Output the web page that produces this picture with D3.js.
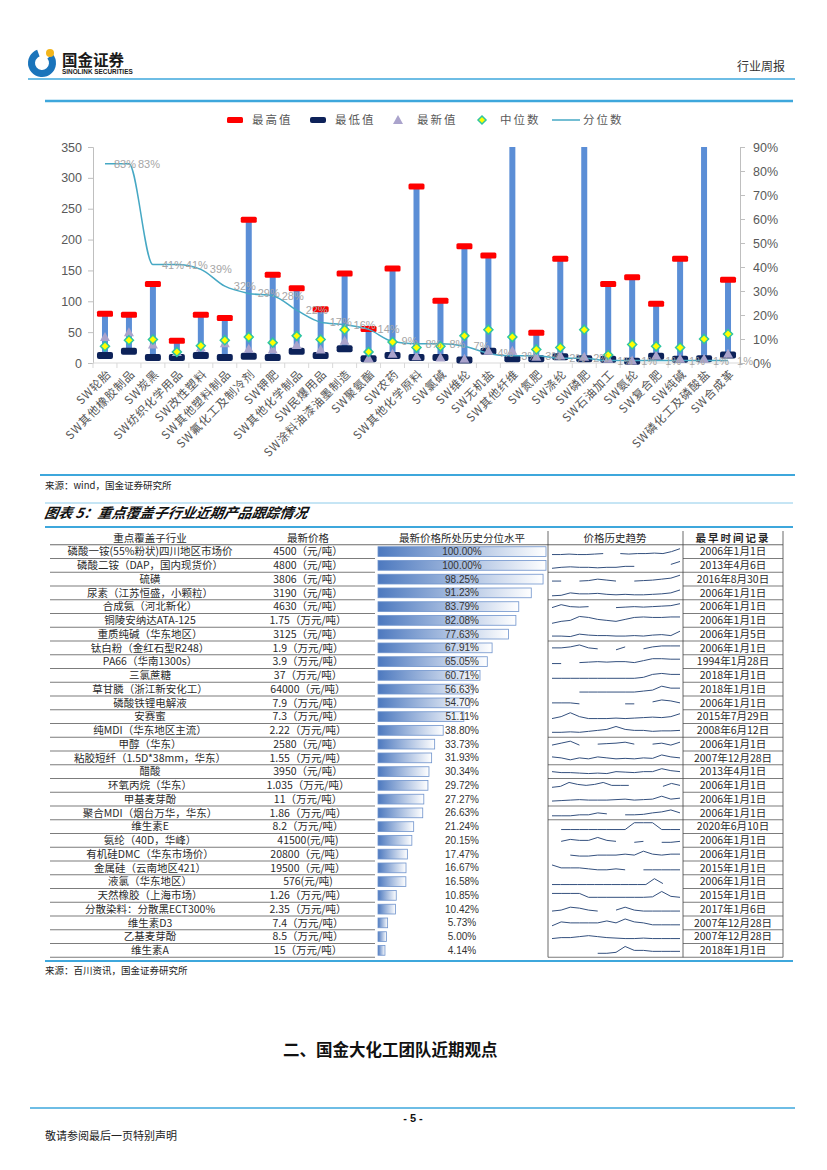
<!DOCTYPE html>
<html><head><meta charset="utf-8">
<script src="https://cdn.jsdelivr.net/npm/d3@7"></script>
<style>body{margin:0;background:#fff}svg{display:block}</style>
</head><body><svg id="page" width="827" height="1170"></svg>
<script>
// ---------- Chart data (top) ----------
const categories = ["SW轮胎","SW其他橡胶制品","SW炭黑","SW纺织化学用品","SW改性塑料","SW其他塑料制品","SW氟化工及制冷剂","SW钾肥","SW其他化学制品","SW民爆用品","SW涂料油漆油墨制造","SW聚氨酯","SW农药","SW其他化学原料","SW氯碱","SW维纶","SW无机盐","SW其他纤维","SW氮肥","SW涤纶","SW磷肥","SW石油加工","SW氨纶","SW复合肥","SW纯碱","SW磷化工及磷酸盐","SW合成革"];
const maxVals    = [80,78,128,36,78,73,232,143,121,87,145,55,153,286,101,189,174,480,49,169,620,128,139,96,169,560,135];
const minVals    = [12,19,9,9,12,9,11,9,19,12,23,7,12,9,9,5,19,7,7,10,7,6,3,11,6,7,13];
const latestVals = [42,50,30,18,25,32,23,22,29,22,36,8,15,11,9,7,20,20,10,12,10,7,4,12,7,7,15];
const medianVals = [27,37,38,18,28,37,42,33,44,38,54,18,34,25,27,44,54,42,22,25,54,13,30,27,25,39,47];
const pctVals    = [83,83,41,41,39,32,29,28,22,17,16,14,9,8,8,7,4,3,3,2,2,1,1,1,1,1,1];
const leftTicks  = [0,50,100,150,200,250,300,350];
const rightTicks = [0,0.1,0.2,0.3,0.4,0.5,0.6,0.7,0.8,0.9];
const legendItems = ["最高值","最低值","最新值","中位数","分位数"];

// ---------- Table data ----------
const products = ["磷酸一铵(55%粉状)四川地区市场价","磷酸二铵（DAP，国内现货价）","硫磺","尿素（江苏恒盛，小颗粒）","合成氨（河北新化）","铜陵安纳达ATA-125","重质纯碱（华东地区）","钛白粉（金红石型R248）","PA66（华南1300s）","三氯蔗糖","草甘膦（浙江新安化工）","磷酸铁锂电解液","安赛蜜","纯MDI（华东地区主流）","甲醇（华东）","粘胶短纤（1.5D*38mm，华东）","醋酸","环氧丙烷（华东）","甲基麦芽酚","聚合MDI（烟台万华，华东）","维生素E","氨纶（40D，华峰）","有机硅DMC（华东市场价）","金属硅（云南地区421）","液氯（华东地区）","天然橡胶（上海市场）","分散染料：分散黑ECT300%","维生素D3","乙基麦芽酚","维生素A"];
const prices = ["4500（元/吨）","4800（元/吨）","3806（元/吨）","3190（元/吨）","4630（元/吨）","1.75（万元/吨）","3125（元/吨）","1.9（万元/吨）","3.9（万元/吨）","37（万元/吨）","64000（元/吨）","7.9（万元/吨）","7.3（万元/吨）","2.22（万元/吨）","2580（元/吨）","1.55（万元/吨）","3950（元/吨）","1.035（万元/吨）","11（万元/吨）","1.86（万元/吨）","8.2（万元/吨）","41500(元/吨)","20800（元/吨）","19500（元/吨）","576(元/吨)","1.26（万元/吨）","2.35（万元/吨）","7.4（万元/吨）","8.5（万元/吨）","15（万元/吨）"];
const percentiles = [100.00,100.00,98.25,91.23,83.79,82.08,77.63,67.91,65.05,60.71,56.63,54.70,51.11,38.80,33.73,31.93,30.34,29.72,27.27,26.63,21.24,20.15,17.47,16.67,16.58,10.85,10.42,5.73,5.00,4.14];
const firstDates = ["2006年1月1日","2013年4月6日","2016年8月30日","2006年1月1日","2006年1月1日","2006年1月1日","2006年1月5日","2006年1月1日","1994年1月28日","2018年1月1日","2018年1月1日","2006年1月1日","2015年7月29日","2008年6月12日","2006年1月1日","2007年12月28日","2013年4月1日","2006年1月1日","2006年1月1日","2006年1月1日","2020年6月10日","2006年1月1日","2006年1月1日","2015年1月1日","2006年1月1日","2015年1月1日","2017年1月6日","2007年12月28日","2007年12月28日","2018年1月1日"];
const tableHeaders = ["重点覆盖子行业","最新价格","最新价格所处历史分位水平","价格历史趋势","最早时间记录"];
// sparkline shapes (relative level in the cell, null = gap)
const trends = [
 [0.2,0.2,0.25,0.2,0.2,0.25,0.3,null,0.3,0.25,0.3,0.3,0.35,0.3,0.5,0.8],
 [0.2,0.3,0.35,0.3,0.3,0.25,0.3,0.3,0.4,0.4,null,null,null,0.6,0.9],
 [0.3,0.3,null,0.3,0.35,0.5,0.4,0.3,null,0.3,0.35,0.4,0.5,0.6,0.9],
 [0.2,0.25,0.5,0.4,0.4,0.45,0.35,0.3,0.35,0.3,0.3,0.35,0.4,0.5,0.8],
 [0.4,0.7,0.5,0.45,0.5,null,null,0.4,0.45,0.5,0.45,0.5,0.55,0.6,0.8],
 [0.2,0.4,0.5,0.9,0.8,0.6,0.5,0.4,0.6,0.8,0.85,0.8,0.8,0.85,0.85],
 [0.3,0.3,0.25,0.5,0.4,0.35,0.35,0.3,0.3,0.35,0.3,0.4,0.45,0.35,0.8],
 [0.5,0.5,0.6,0.8,0.5,0.4,null,0.3,0.6,null,0.4,0.6,0.7,0.7,0.7],
 [0.3,0.3,null,0.4,0.45,0.5,0.45,0.5,0.5,0.4,0.6,0.8,0.8,0.75,0.75],
 [0.2,0.2,0.2,0.2,0.2,0.2,0.2,0.2,0.2,0.2,0.3,0.6,0.7,0.6,0.6],
 [null,null,null,0.2,0.2,0.2,0.2,0.2,0.2,0.2,0.3,0.4,0.8,0.6,0.6],
 [0.5,0.5,0.5,0.4,null,0.4,null,null,0.4,0.4,null,0.6,0.8,0.7,0.5],
 [0.3,0.5,0.9,0.5,0.3,0.3,0.3,0.35,0.3,0.35,0.4,0.45,0.4,0.5,0.8],
 [0.3,0.3,0.35,0.3,0.4,0.5,0.6,0.9,0.6,0.5,0.5,0.4,0.45,0.45,0.5],
 [0.4,0.6,0.8,0.4,null,0.5,0.55,0.6,0.7,0.5,null,0.5,0.6,0.4,0.7],
 [0.6,0.5,0.3,0.5,0.4,0.6,0.5,0.4,0.45,0.4,0.5,0.45,0.8,0.6,0.5],
 [0.5,0.4,0.4,0.35,0.3,0.35,0.3,0.5,0.45,0.4,0.5,0.5,0.8,0.6,0.5],
 [0.3,0.4,0.8,0.6,0.5,0.6,0.8,0.5,0.5,0.5,null,0.3,null,0.4,0.7,0.5],
 [0.3,0.35,0.4,0.45,0.4,0.4,0.4,0.45,0.5,0.4,0.45,0.5,0.8,0.5,0.6],
 [0.2,0.2,0.2,0.3,0.3,0.5,0.4,null,0.3,0.3,0.35,0.5,0.6,0.8,0.5],
 [null,0.2,0.2,0.2,0.2,0.2,0.2,0.2,0.2,0.9,0.9,0.9,0.2,0.2,0.2],
 [null,0.4,0.6,0.5,0.5,0.8,0.5,0.4,null,0.3,0.4,null,0.3,0.3,0.4],
 [0.5,null,0.4,0.3,0.3,0.4,0.4,0.4,0.5,0.4,0.8,0.5,0.4,0.5,0.5],
 [0.8,0.5,0.5,0.5,0.4,0.3,0.3,0.4,0.3,null,0.3,0.3,0.3,0.3,0.3],
 [0.2,0.2,0.2,0.2,0.2,0.2,0.2,0.2,0.2,0.2,0.2,0.2,0.8,0.3,null,0.3],
 [0.7,0.7,0.7,0.7,0.3,0.3,0.3,0.3,0.3,0.3,0.3,0.35,0.9,0.4,0.3],
 [0.3,0.4,0.7,0.6,0.4,0.3,null,0.4,0.7,0.4,0.3,0.3,0.3,0.3,0.3],
 [0.2,0.6,0.5,0.5,0.5,0.5,0.7,0.5,0.9,0.6,0.5,0.3,0.3,0.3,0.3],
 [0.3,0.4,0.4,0.5,0.6,0.5,0.4,0.35,0.3,0.3,0.35,0.3,0.3,0.3,0.3],
 [0.2,null,null,null,null,0.2,0.2,0.3,0.9,0.5,0.5,0.4,0.4,0.4,0.4]
];

const CJK = '"Noto Sans CJK SC","Noto Sans",sans-serif';
const LAT = '"Liberation Sans",Arial,sans-serif';
const BLUE = '#3ea7dc';
const svg = d3.select('#page');
svg.append('rect').attr('width',827).attr('height',1170).attr('fill','#fff');

// ---------- Page header ----------
const logo = svg.append('g');
logo.append('circle').attr('cx',42).attr('cy',63).attr('r',10.5).attr('fill','none')
  .attr('stroke','#1a74bb').attr('stroke-width',7)
  .attr('stroke-dasharray', `${2*Math.PI*10.5*0.8} ${2*Math.PI*10.5*0.2}`)
  .attr('transform','rotate(-40 42 63)');
logo.append('circle').attr('cx',50).attr('cy',53).attr('r',4).attr('fill','#f3b51b');
svg.append('text').attr('x',62).attr('y',66).text('国金证券')
  .attr('font-family',CJK).attr('font-weight',700).attr('font-size',15.5).attr('fill','#1a1a1a');
svg.append('text').attr('x',62).attr('y',74).text('SINOLINK SECURITIES')
  .attr('font-family',LAT).attr('font-weight',700).attr('font-size',6.4).attr('fill','#1a1a1a');
svg.append('text').attr('x',737).attr('y',71).text('行业周报')
  .attr('font-family',CJK).attr('font-size',12).attr('fill','#333');
svg.append('line').attr('x1',28).attr('x2',795).attr('y1',79).attr('y2',79).attr('stroke',BLUE).attr('stroke-width',1.5);
svg.append('line').attr('x1',45).attr('x2',793).attr('y1',101).attr('y2',101).attr('stroke',BLUE).attr('stroke-width',2.5);

// ---------- Chart ----------
const plot = {left:93, right:740, top:147, bottom:363};
const x = d3.scaleBand().domain(categories).range([plot.left, plot.right]);
const cx = c => x(c) + x.bandwidth()/2;
const y = d3.scaleLinear().domain([0,350]).range([plot.bottom, plot.top]);
const yR = d3.scaleLinear().domain([0,0.9]).range([plot.bottom, plot.top]);

const axL = svg.append('g').attr('transform',`translate(${plot.left},0)`)
  .call(d3.axisLeft(y).tickValues(leftTicks).tickSize(5).tickPadding(6));
const axR = svg.append('g').attr('transform',`translate(${plot.right},0)`)
  .call(d3.axisRight(yR).tickValues(rightTicks).tickFormat(d3.format('.0%')).tickSize(5).tickPadding(8));
[axL, axR].forEach(a => {
  a.select('.domain').attr('stroke','#bfbfbf');
  a.selectAll('.tick line').attr('stroke','#bfbfbf');
  a.selectAll('text').attr('fill','#595959').attr('font-family',LAT).attr('font-size',12.5);
});
// category axis
svg.append('line').attr('x1',plot.left).attr('x2',plot.right).attr('y1',plot.bottom).attr('y2',plot.bottom).attr('stroke','#d9d9d9');
svg.append('g').selectAll('line').data(categories.concat([null])).join('line')
  .attr('x1',(d,i)=> i<categories.length ? x(d) : plot.right).attr('x2',(d,i)=> i<categories.length ? x(d) : plot.right)
  .attr('y1',plot.bottom).attr('y2',plot.bottom+5).attr('stroke','#d9d9d9');
svg.append('g').selectAll('text').data(categories).join('text')
  .attr('transform', d => `translate(${cx(d)+1},${plot.bottom+6}) rotate(-45)`)
  .attr('dy','0.72em').attr('text-anchor','end')
  .attr('font-family',CJK).attr('font-size',11.5).attr('letter-spacing',0.8).attr('fill','#555')
  .text(d=>d);

svg.append('clipPath').attr('id','plotclip').append('rect')
  .attr('x',plot.left-20).attr('y',plot.top).attr('width',plot.right-plot.left+40).attr('height',plot.bottom-plot.top+15);
const g = svg.append('g').attr('clip-path','url(#plotclip)');
const data = categories.map((c,i)=>({c, max:maxVals[i], min:minVals[i], last:latestVals[i], med:medianVals[i], pct:pctVals[i]/100}));

g.selectAll('.bar').data(data).join('rect').attr('class','bar')
  .attr('x',d=>cx(d.c)-3).attr('width',6)
  .attr('y',d=>y(d.max)).attr('height',d=>y(d.min)-y(d.max)).attr('fill','#5b8ed6');
g.selectAll('.mn').data(data).join('rect').attr('class','mn')
  .attr('x',d=>cx(d.c)-8).attr('width',16).attr('y',d=>y(d.min)-3.5).attr('height',7).attr('rx',2)
  .attr('fill','#0d2259');
g.selectAll('.mx').data(data).join('rect').attr('class','mx')
  .attr('x',d=>cx(d.c)-8).attr('width',16).attr('y',d=>y(d.max)-3).attr('height',6).attr('rx',1.5)
  .attr('fill','#ff0000');
g.append('path').datum(data)
  .attr('d', d3.line().x(d=>cx(d.c)).y(d=>yR(d.pct)).curve(d3.curveMonotoneX))
  .attr('fill','none').attr('stroke','#46a8c4').attr('stroke-width',1.5);
g.selectAll('.tri').data(data).join('path').attr('class','tri')
  .attr('d',d=>{const X=cx(d.c),Y=y(d.last);return `M${X},${Y-5}L${X+5},${Y+4}L${X-5},${Y+4}Z`;})
  .attr('fill','#aaa3cc');
g.selectAll('.dia').data(data).join('path').attr('class','dia')
  .attr('d',d=>{const X=cx(d.c),Y=y(d.med);return `M${X},${Y-4.5}L${X+4.5},${Y}L${X},${Y+4.5}L${X-4.5},${Y}Z`;})
  .attr('fill','#ffff00').attr('stroke','#2ec5a2').attr('stroke-width',1.5);
svg.append('g').selectAll('text').data(data).join('text')
  .attr('x',d=>cx(d.c)+9).attr('y',d=>yR(d.pct)).attr('dy','0.36em')
  .attr('font-family',LAT).attr('font-size',11).attr('fill','#a6a6a6')
  .text(d=>Math.round(d.pct*100)+'%');

// legend
const lg = svg.append('g').attr('font-family',CJK).attr('font-size',11.5).attr('fill','#595959').attr('letter-spacing',2);
const ly = 120;
lg.append('rect').attr('x',227).attr('y',ly-3).attr('width',16).attr('height',6).attr('rx',1.5).attr('fill','#ff0000');
lg.append('rect').attr('x',310).attr('y',ly-3).attr('width',16).attr('height',6).attr('rx',2).attr('fill','#0d2259');
lg.append('path').attr('d',`M398,${ly-5}L403,${ly+4}L393,${ly+4}Z`).attr('fill','#aaa3cc');
lg.append('path').attr('d',`M482,${ly-4}L486,${ly}L482,${ly+4}L478,${ly}Z`).attr('fill','#ffff00').attr('stroke','#2ec5a2').attr('stroke-width',1.5);
lg.append('line').attr('x1',552).attr('x2',580).attr('y1',ly).attr('y2',ly).attr('stroke','#46a8c4').attr('stroke-width',1.5);
const lgX = [252,335,417,500,583];
lg.selectAll('text').data(legendItems).join('text').attr('x',(d,i)=>lgX[i]).attr('y',ly).attr('dy','0.36em').text(d=>d);

// chart source
svg.append('line').attr('x1',40).attr('x2',795).attr('y1',475).attr('y2',475).attr('stroke',BLUE).attr('stroke-width',2);
svg.append('text').attr('x',45).attr('y',489).text('来源：wind，国金证券研究所')
  .attr('font-family',CJK).attr('font-size',9.5).attr('fill','#222');

// ---------- Table ----------
svg.append('line').attr('x1',45).attr('x2',793).attr('y1',503).attr('y2',503).attr('stroke','#8ccbea').attr('stroke-width',1);
svg.append('text').attr('x',45).attr('y',518).text('图表 5：重点覆盖子行业近期产品跟踪情况')
  .attr('font-family',CJK).attr('font-weight',700).attr('font-style','italic').attr('font-size',14).attr('fill','#111')
  .attr('transform','skewX(-10) translate(90,0)');
svg.append('line').attr('x1',45).attr('x2',793).attr('y1',527).attr('y2',527).attr('stroke',BLUE).attr('stroke-width',2);

const rowH = 13.75, tTop = 531;
const rowY = d3.scaleLinear().domain([0,1]).range([tTop, tTop+rowH]); // row index -> top (header = 0)
const colC = [150, 308, 462, 615, 733];
const tg = svg.append('g').attr('font-family',CJK).attr('font-size',10.5).attr('fill','#2a2a2a');
// header
tg.selectAll('.hd').data(tableHeaders).join('text').attr('class','hd')
  .attr('x',(d,i)=>colC[i]).attr('y',rowY(0.5)).attr('dy','0.36em').attr('text-anchor','middle')
  .attr('font-weight',(d,i)=>i===4?700:400).attr('letter-spacing',(d,i)=>i===4?2:0).text(d=>d);
// row lines
const lineC = '#444';
tg.append('line').attr('x1',50).attr('x2',783).attr('y1',rowY(1)).attr('y2',rowY(1)).attr('stroke',lineC).attr('stroke-width',0.8);
products.forEach((p,i)=>{
  const yb = rowY(i+2);
  tg.append('line').attr('x1',50).attr('x2',375).attr('y1',yb).attr('y2',yb).attr('stroke',lineC).attr('stroke-width',0.7);
  tg.append('line').attr('x1',683).attr('x2',783).attr('y1',yb).attr('y2',yb).attr('stroke',lineC).attr('stroke-width',0.7);
});
[2,4,7,14,16,17,19,20,30].forEach(k=>{
  tg.append('line').attr('x1',548).attr('x2',683).attr('y1',rowY(k+1)).attr('y2',rowY(k+1)).attr('stroke',lineC).attr('stroke-width',0.7);
});
[548,683,783].forEach(xx=>{
  tg.append('line').attr('x1',xx).attr('x2',xx).attr('y1',tTop).attr('y2',rowY(31)).attr('stroke',lineC).attr('stroke-width',0.8);
});
// text columns
tg.selectAll('.p').data(products).join('text').attr('class','p')
  .attr('x',colC[0]).attr('y',(d,i)=>rowY(i+1.5)).attr('dy','0.36em').attr('text-anchor','middle').text(d=>d);
tg.selectAll('.pr').data(prices).join('text').attr('class','pr')
  .attr('x',colC[1]).attr('y',(d,i)=>rowY(i+1.5)).attr('dy','0.36em').attr('text-anchor','middle').text(d=>d);
tg.selectAll('.dt').data(firstDates).join('text').attr('class','dt')
  .attr('x',colC[4]).attr('y',(d,i)=>rowY(i+1.5)).attr('dy','0.36em').attr('text-anchor','middle').text(d=>d);
// percentile data bars
const grad = svg.append('defs').append('linearGradient').attr('id','pg').attr('x1','0').attr('x2','1').attr('y1','0').attr('y2','0');
grad.append('stop').attr('offset','0').attr('stop-color','#4d79bf');
grad.append('stop').attr('offset','1').attr('stop-color','#ffffff');
const pw = d3.scaleLinear().domain([0,100]).range([0,168]);
tg.selectAll('.pb').data(percentiles).join('rect').attr('class','pb')
  .attr('x',378).attr('y',(d,i)=>rowY(i+1)+2).attr('width',d=>pw(d)).attr('height',rowH-4)
  .attr('fill','url(#pg)').attr('stroke','#6f93cc').attr('stroke-width',0.8);
tg.selectAll('.pt').data(percentiles).join('text').attr('class','pt')
  .attr('x',colC[2]).attr('y',(d,i)=>rowY(i+1.5)).attr('dy','0.36em').attr('text-anchor','middle')
  .attr('font-family',LAT).attr('font-size',10).attr('fill','#333').text(d=>d.toFixed(2)+'%');
// sparklines
trends.forEach((t,i)=>{
  const sx = d3.scaleLinear().domain([0,t.length-1]).range([552,680]);
  const sy = d3.scaleLinear().domain([0,1]).range([rowY(i+2)-2, rowY(i+1)+2]);
  tg.append('path').datum(t)
    .attr('d', d3.line().defined(v=>v!==null).x((v,j)=>sx(j)).y(v=>sy(v)))
    .attr('fill','none').attr('stroke','#34507e').attr('stroke-width',1);
});

// table source
svg.append('line').attr('x1',45).attr('x2',793).attr('y1',961).attr('y2',961).attr('stroke',BLUE).attr('stroke-width',2);
svg.append('text').attr('x',45).attr('y',974).text('来源：百川资讯，国金证券研究所')
  .attr('font-family',CJK).attr('font-size',9.5).attr('fill','#222');

// ---------- Section title & footer ----------
svg.append('text').attr('x',283).attr('y',1056).text('二、国金大化工团队近期观点')
  .attr('font-family',CJK).attr('font-weight',700).attr('font-size',16.5).attr('fill','#111');
svg.append('line').attr('x1',30).attr('x2',795).attr('y1',1108).attr('y2',1108).attr('stroke',BLUE).attr('stroke-width',1.5);
svg.append('text').attr('x',413).attr('y',1122).attr('text-anchor','middle').text('- 5 -')
  .attr('font-family',LAT).attr('font-weight',700).attr('font-size',11).attr('fill','#111');
svg.append('text').attr('x',45).attr('y',1140).text('敬请参阅最后一页特别声明')
  .attr('font-family',CJK).attr('font-size',11).attr('fill','#222');
</script></body></html>
